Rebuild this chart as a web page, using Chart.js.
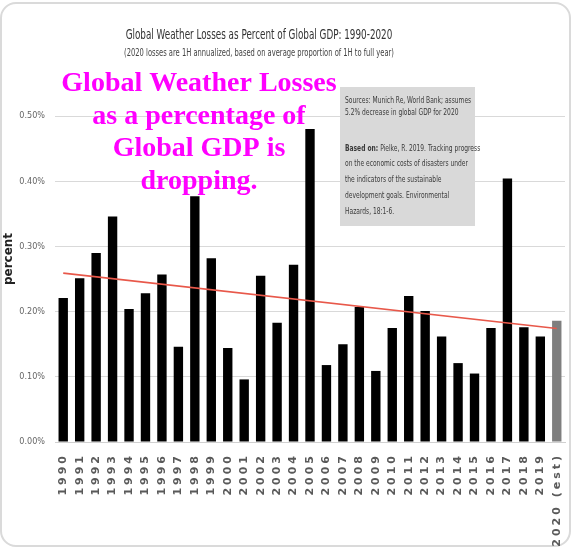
<!DOCTYPE html>
<html>
<head>
<meta charset="utf-8">
<script src="https://cdn.jsdelivr.net/npm/chart.js@4/dist/chart.umd.min.js"></script>
<style>
  html, body { margin: 0; padding: 0; background: #fff; }
  #wrap { width: 574px; height: 549px; }
</style>
</head>
<body>
<div id="wrap"><canvas id="myChart" width="574" height="549"></canvas></div>
<script>
const years = ["1990","1991","1992","1993","1994","1995","1996","1997","1998","1999",
  "2000","2001","2002","2003","2004","2005","2006","2007","2008","2009",
  "2010","2011","2012","2013","2014","2015","2016","2017","2018","2019","2020 (est)"];
// losses as percent of global GDP
const losses = [0.221, 0.251, 0.290, 0.346, 0.204, 0.228, 0.257, 0.146, 0.377, 0.282,
  0.144, 0.096, 0.255, 0.183, 0.272, 0.480, 0.118, 0.150, 0.207, 0.109,
  0.175, 0.224, 0.201, 0.162, 0.121, 0.105, 0.175, 0.404, 0.176, 0.162, 0.186];
const trendEnds = [0.259, 0.174];
const yTicks = [0, 0.1, 0.2, 0.3, 0.4, 0.5];
const titleText = "Global Weather Losses as Percent of Global GDP: 1990-2020";
const subtitleText = "(2020 losses are 1H annualized, based on average proportion of 1H to full year)";
const overlayLines = ["Global Weather Losses", "as a percentage of", "Global GDP is", "dropping."];
const noteLines = [
  "Sources: Munich Re, World Bank; assumes",
  "5.2% decrease in global GDP for 2020",
  "Based on: Pielke, R. 2019. Tracking progress",
  "on the economic costs of disasters under",
  "the indicators of the sustainable",
  "development goals. Environmental",
  "Hazards, 18:1-6."
];

const trend = years.map((y, i) => i === 0 ? trendEnds[0] : (i === years.length - 1 ? trendEnds[1] : null));
const barColors = years.map((y, i) => i === years.length - 1 ? "#7f7f7f" : "#000000");

const narrow = "'DejaVu Sans Condensed', 'DejaVu Sans', sans-serif";

// squeezed text, to get close to the narrow font of the original
function squeezed(ctx, text, x, y, sx) {
  ctx.save();
  ctx.translate(x, y);
  ctx.scale(sx, 1);
  ctx.fillText(text, 0, 0);
  ctx.restore();
}

const extras = {
  id: "extras",
  afterUpdate(chart) {
    // wider letter spacing on the year labels
    const xs = chart.scales.x;
    if (!xs._spaced) {
      const base = Object.getPrototypeOf(xs).drawLabels;
      xs.drawLabels = function (area) {
        this.ctx.save();
        this.ctx.letterSpacing = "3px";
        base.call(this, area);
        this.ctx.restore();
      };
      xs._spaced = true;
    }
  },
  beforeDraw(chart) {
    const ctx = chart.ctx;
    ctx.save();
    ctx.fillStyle = "#fff";
    ctx.fillRect(0, 0, chart.width, chart.height);
    ctx.strokeStyle = "#dadada";
    ctx.lineWidth = 2;
    ctx.beginPath();
    ctx.roundRect(1, 3, 569, 543, 15);
    ctx.stroke();

    ctx.textAlign = "center";
    ctx.textBaseline = "middle";
    ctx.fillStyle = "#333";
    ctx.font = "14px " + narrow;
    squeezed(ctx, titleText, 259, 35, 0.7);
    ctx.fillStyle = "#444";
    ctx.font = "10px " + narrow;
    squeezed(ctx, subtitleText, 259, 53, 0.75);

    // y axis title
    ctx.save();
    ctx.translate(9, 259);
    ctx.rotate(-Math.PI / 2);
    ctx.fillStyle = "#222";
    ctx.font = "bold 12px 'DejaVu Sans'";
    ctx.fillText("percent", 0, 0);
    ctx.restore();
    ctx.restore();
  },
  afterDraw(chart) {
    const ctx = chart.ctx;
    ctx.save();
    // note box
    ctx.fillStyle = "#d9d9d9";
    ctx.fillRect(340, 87, 135, 139);
    ctx.fillStyle = "#3a3a3a";
    ctx.textAlign = "left";
    ctx.textBaseline = "middle";
    const ys = [101, 113, 149, 164, 180, 196, 212];
    noteLines.forEach((t, i) => {
      ctx.font = "8.5px " + narrow;
      if (t.startsWith("Based on:")) {
        ctx.font = "bold 8.5px " + narrow;
        squeezed(ctx, "Based on:", 345, ys[i], 0.78);
        const w = ctx.measureText("Based on:").width * 0.78;
        ctx.font = "8.5px " + narrow;
        squeezed(ctx, t.slice(9), 345 + w, ys[i], 0.78);
      } else {
        squeezed(ctx, t, 345, ys[i], 0.78);
      }
    });
    // magenta overlay
    ctx.fillStyle = "#ff00ff";
    ctx.font = "bold 28px 'Liberation Serif', 'Times New Roman', serif";
    ctx.textAlign = "center";
    ctx.textBaseline = "alphabetic";
    overlayLines.forEach((t, i) => ctx.fillText(t, 199, 91 + i * 32.5));
    ctx.restore();
  }
};

new Chart(document.getElementById("myChart"), {
  type: "bar",
  data: {
    labels: years,
    datasets: [
      {
        type: "line",
        data: trend,
        borderColor: "#e8584a",
        borderWidth: 1.6,
        pointRadius: 0,
        spanGaps: true,
        order: 0
      },
      {
        data: losses,
        backgroundColor: barColors,
        barPercentage: 0.57,
        categoryPercentage: 1,
        order: 1
      }
    ]
  },
  options: {
    responsive: false,
    animation: false,
    devicePixelRatio: 1,
    layout: { padding: { left: 0, right: 9, top: 116, bottom: 0 } },
    plugins: {
      legend: { display: false },
      tooltip: { enabled: false }
    },
    scales: {
      x: {
        grid: { display: false },
        border: { color: "#d0d0d0" },
        ticks: {
          minRotation: 90,
          maxRotation: 90,
          autoSkip: false,
          color: "#595959",
          font: { family: "'DejaVu Sans'", size: 11, weight: "bold" },
          padding: 3
        },
        afterFit: (s) => { s.height = 107; }
      },
      y: {
        min: 0,
        max: 0.5,
        afterBuildTicks: (s) => { s.ticks = yTicks.map((v) => ({ value: v })); },
        grid: { color: "#d9d9d9", drawTicks: false },
        border: { display: false },
        ticks: {
          color: "#666",
          padding: 10,
          font: { family: narrow, size: 9 },
          callback: (v) => v.toFixed(2) + "%"
        },
        afterFit: (s) => { s.width = 55; }
      }
    }
  },
  plugins: [extras]
});
</script>
</body>
</html>
